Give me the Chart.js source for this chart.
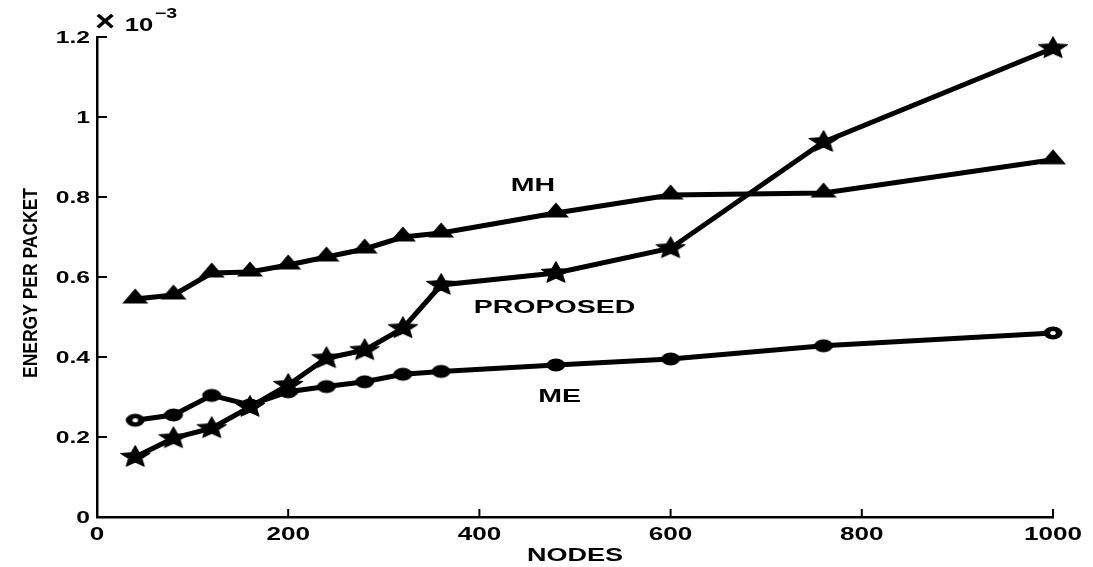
<!DOCTYPE html>
<html>
<head>
<meta charset="utf-8">
<script src="https://cdn.jsdelivr.net/npm/chart.js@4/dist/chart.umd.min.js"></script>
<style>
  html, body { margin: 0; padding: 0; background: #fff; }
  #wrap { width: 1093px; height: 567px; position: relative; }
</style>
</head>
<body>
<div id="wrap"><canvas id="chart"></canvas></div>
<script>
// Network size (number of nodes) on the x axis
const nodes = [40, 80, 120, 160, 200, 240, 280, 320, 360, 480, 600, 760, 1000];

// Energy per packet for each scheme
const energyMH = [0.545e-3, 0.555e-3, 0.610e-3, 0.6125e-3, 0.630e-3, 0.650e-3, 0.670e-3, 0.700e-3, 0.710e-3, 0.760e-3, 0.805e-3, 0.810e-3, 0.893e-3];
const energyProposed = [0.150e-3, 0.197e-3, 0.222e-3, 0.275e-3, 0.330e-3, 0.397e-3, 0.417e-3, 0.472e-3, 0.580e-3, 0.610e-3, 0.672e-3, 0.9375e-3, 1.172e-3];
const energyME = [0.242e-3, 0.255e-3, 0.304e-3, 0.280e-3, 0.313e-3, 0.326e-3, 0.338e-3, 0.357e-3, 0.364e-3, 0.380e-3, 0.395e-3, 0.428e-3, 0.460e-3];

// Axis ticks
const xTickValues = [0, 200, 400, 600, 800, 1000];
const xTickLabels = ['0', '200', '400', '600', '800', '1000'];
const yTickValues = [0, 0.2e-3, 0.4e-3, 0.6e-3, 0.8e-3, 1.0e-3, 1.2e-3];
const yTickLabels = ['0', '0.2', '0.4', '0.6', '0.8', '1', '1.2'];

// Curve labels placed in data coordinates
const curveLabels = [
  { text: 'MH', x: 456, y: 0.8325e-3 },
  { text: 'PROPOSED', x: 478.6, y: 0.5275e-3 },
  { text: 'ME', x: 484, y: 0.305e-3 }
];

function toPoints(values) {
  return nodes.map((n, i) => ({ x: n, y: values[i] }));
}

// ---- marker sprites ----
function makeCanvas(w, h) {
  const c = document.createElement('canvas');
  c.width = w; c.height = h;
  return c;
}

function starMarker() {
  const w = 32, h = 26, cx = 16, cy = 13, R = 11.5, r = 5.2, sx = 1.35;
  const c = makeCanvas(w, h), g = c.getContext('2d');
  g.beginPath();
  for (let k = 0; k < 10; k++) {
    const ang = -Math.PI / 2 + k * Math.PI / 5;
    const rr = k % 2 === 0 ? R : r;
    const px = cx + sx * rr * Math.cos(ang), py = cy + rr * Math.sin(ang);
    if (k === 0) g.moveTo(px, py); else g.lineTo(px, py);
  }
  g.closePath();
  g.fillStyle = '#000';
  g.fill();
  g.lineWidth = 1; g.strokeStyle = '#000'; g.stroke();
  return c;
}

function triangleMarker() {
  const c = makeCanvas(28, 24), g = c.getContext('2d');
  g.beginPath();
  g.moveTo(14, 1.5);
  g.lineTo(1, 16.5);
  g.lineTo(27, 16.5);
  g.closePath();
  g.fillStyle = '#000';
  g.fill();
  return c;
}

function ellipseMarker(hollow) {
  const c = makeCanvas(22, 16), g = c.getContext('2d');
  g.beginPath();
  g.ellipse(11, 8, 9.5, 6.5, 0, 0, Math.PI * 2);
  g.fillStyle = '#000';
  g.fill();
  if (hollow) {
    g.beginPath();
    g.ellipse(11, 8, 2.8, 2.1, 0, 0, Math.PI * 2);
    g.fillStyle = '#fff';
    g.fill();
  }
  return c;
}

const starImg = starMarker();
const triImg = triangleMarker();
const dotImg = ellipseMarker(false);
const ringImg = ellipseMarker(true);

// ---- horizontally stretched text ----
// align: 'center' | 'right' | 'left'; cy is the vertical centre of the capitals
function stretchedText(ctx, text, px, cy, size, weight, sx, align) {
  ctx.save();
  ctx.translate(px, cy);
  ctx.scale(sx, 1);
  ctx.font = weight + ' ' + size + 'px "Liberation Sans", Arial, sans-serif';
  ctx.textAlign = align || 'center';
  ctx.textBaseline = 'alphabetic';
  ctx.fillStyle = '#000';
  ctx.fillText(text, 0, size * 0.358);
  ctx.restore();
}

// Inward tick marks and tick labels on the left and bottom axes
const axisDecor = {
  id: 'axisDecor',
  afterDraw(chart) {
    const { ctx, chartArea: a, scales: { x, y } } = chart;
    ctx.save();
    ctx.strokeStyle = '#000';
    ctx.lineWidth = 2;
    ctx.beginPath();
    xTickValues.forEach(v => {
      const px = x.getPixelForValue(v);
      ctx.moveTo(px, a.bottom);
      ctx.lineTo(px, a.bottom - 8);
    });
    yTickValues.forEach(v => {
      const py = y.getPixelForValue(v);
      ctx.moveTo(a.left, py);
      ctx.lineTo(a.left + 10, py);
    });
    ctx.stroke();
    ctx.restore();

    xTickValues.forEach((v, i) => {
      stretchedText(ctx, xTickLabels[i], x.getPixelForValue(v), a.bottom + 17, 18, 'bold', 1.45, 'center');
    });
    yTickValues.forEach((v, i) => {
      stretchedText(ctx, yTickLabels[i], a.left - 7, y.getPixelForValue(v), 17, 'bold', 1.45, 'right');
    });
  }
};

// Axis titles, exponent note and curve labels
const chartTexts = {
  id: 'chartTexts',
  afterDraw(chart) {
    const { ctx, chartArea: a, scales: { x, y } } = chart;

    curveLabels.forEach(l => {
      stretchedText(ctx, l.text, x.getPixelForValue(l.x), y.getPixelForValue(l.y), 19, 'bold', 1.5);
    });

    // x axis title
    stretchedText(ctx, 'NODES', (a.left + a.right) / 2, a.bottom + 38, 18, 'bold', 1.5);

    // exponent of the y axis
    stretchedText(ctx, '\u00d7', a.left + 8, a.top - 17, 30, 'bold', 1.15);
    stretchedText(ctx, '10', a.left + 42, a.top - 13, 19, 'bold', 1.35);
    stretchedText(ctx, '\u22123', a.left + 69, a.top - 24, 14, 'bold', 1.4);

    // y axis title, rotated
    ctx.save();
    ctx.translate(29, (a.top + a.bottom) / 2 + 6);
    ctx.rotate(-Math.PI / 2);
    ctx.font = 'bold 21px "Liberation Sans", Arial, sans-serif';
    const label = 'ENERGY PER PACKET';
    const w = ctx.measureText(label).width;
    ctx.scale(190 / w, 1);
    ctx.textAlign = 'center';
    ctx.textBaseline = 'alphabetic';
    ctx.fillStyle = '#000';
    ctx.fillText(label, 0, 21 * 0.358);
    ctx.restore();
  }
};

const lineCommon = {
  borderColor: '#000',
  backgroundColor: '#000',
  borderWidth: 5,
  tension: 0,
  fill: false,
  pointRadius: 8,
  clip: false
};

const lastIndex = nodes.length - 1;

new Chart(document.getElementById('chart'), {
  type: 'line',
  data: {
    datasets: [
      Object.assign({ label: 'MH', data: toPoints(energyMH), pointStyle: triImg }, lineCommon),
      Object.assign({ label: 'PROPOSED', data: toPoints(energyProposed), pointStyle: starImg }, lineCommon),
      Object.assign({
        label: 'ME',
        data: toPoints(energyME),
        pointStyle: (c) => (c.dataIndex === 0 || c.dataIndex === lastIndex) ? ringImg : dotImg
      }, lineCommon)
    ]
  },
  options: {
    responsive: true,
    maintainAspectRatio: false,
    animation: false,
    devicePixelRatio: 1,
    layout: { padding: { left: 0, top: 37, right: 40, bottom: 0 } },
    plugins: {
      legend: { display: false },
      tooltip: { enabled: false }
    },
    scales: {
      x: {
        type: 'linear',
        min: 0,
        max: 1000,
        afterBuildTicks: (s) => { s.ticks = xTickValues.map(v => ({ value: v })); },
        afterFit: (s) => { s.height = 50; },
        grid: { display: false, drawTicks: false, drawOnChartArea: false },
        border: { display: true, color: '#000', width: 2.5 },
        ticks: { display: false }
      },
      y: {
        type: 'linear',
        min: 0,
        max: 1.2e-3,
        afterBuildTicks: (s) => { s.ticks = yTickValues.map(v => ({ value: v })); },
        afterFit: (s) => { s.width = 97; },
        grid: { display: false, drawTicks: false, drawOnChartArea: false },
        border: { display: true, color: '#000', width: 2.5 },
        ticks: { display: false }
      }
    }
  },
  plugins: [axisDecor, chartTexts]
});
</script>
</body>
</html>
